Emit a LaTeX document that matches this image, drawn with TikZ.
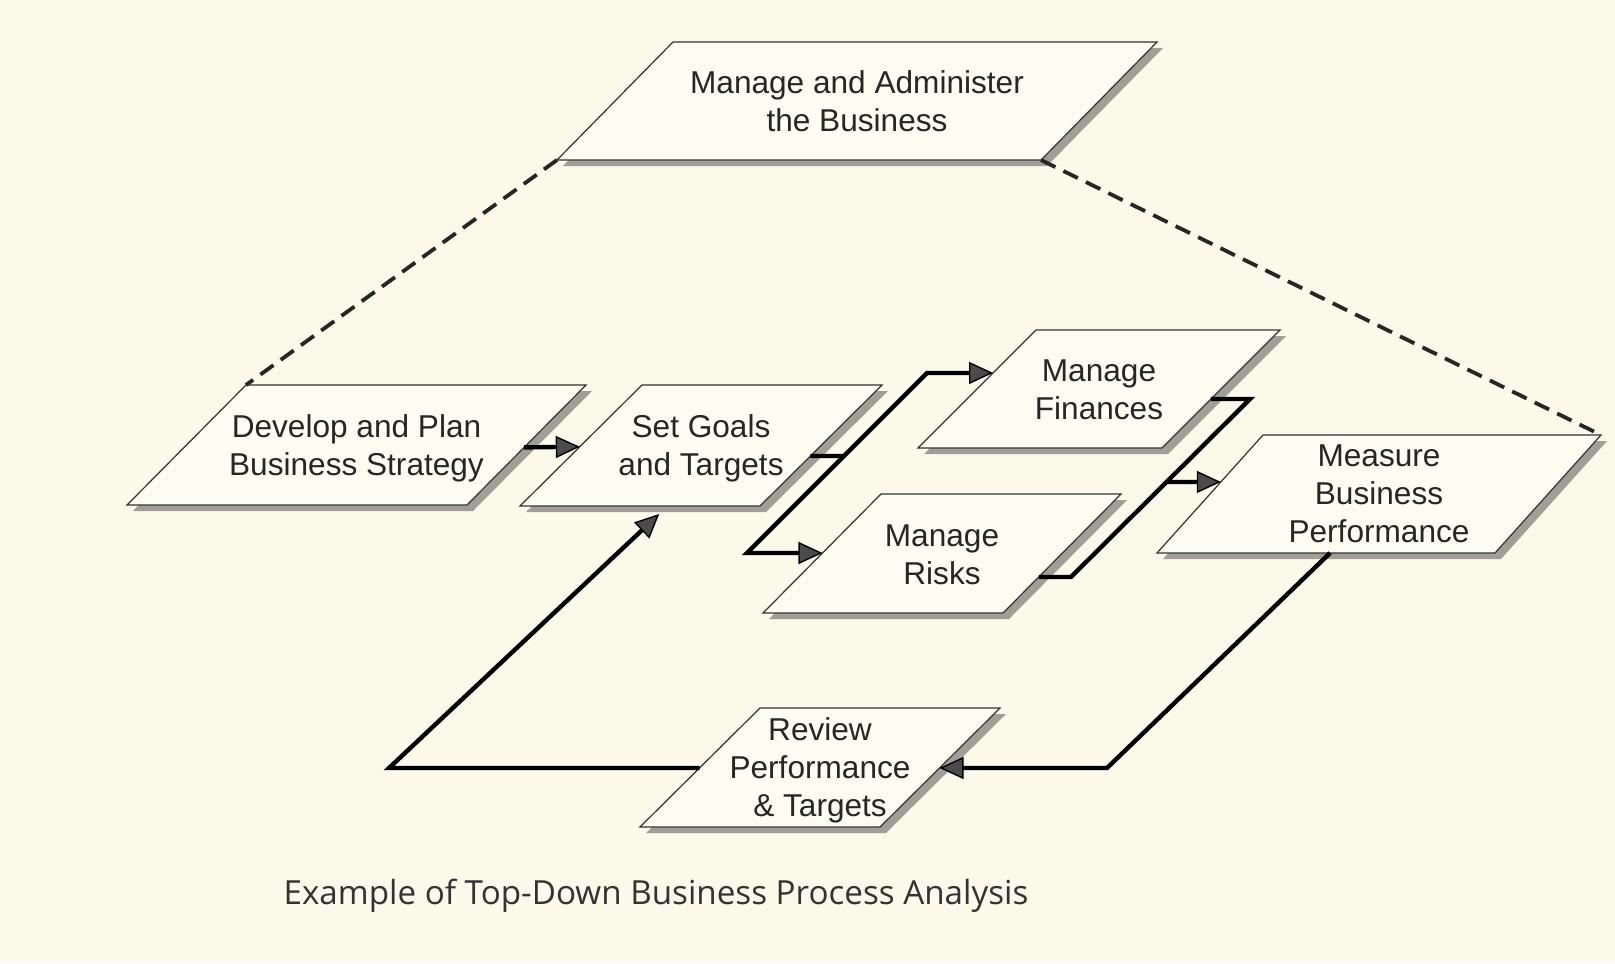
\documentclass[tikz,border=0pt]{standalone}
\usepackage{fontspec}
\setmainfont{Liberation Sans}
\newfontfamily\capfont{Open Sans}
\usetikzlibrary{calc,arrows.meta}
\definecolor{bgc}{RGB}{251,249,234}
\definecolor{boxfill}{RGB}{253,252,241}
\definecolor{shadowc}{RGB}{160,158,150}
\definecolor{tipc}{RGB}{75,75,75}
\tikzset{
  boxline/.style={draw=black!80, line width=0.6pt, fill=boxfill, line join=miter},
  shadowfill/.style={fill=shadowc},
  boxtext/.style={text=black!85, align=center, font=\fontsize{15.8}{19}\selectfont, inner sep=0pt},
  flowline/.style={draw=black, line width=2.2pt, line join=miter, line cap=butt},
  flow/.style={flowline, -{Triangle[length=12pt,width=11pt,fill=tipc,line width=0.7pt]}},
  dashline/.style={draw=black!85, line width=1.9pt, dash pattern=on 8pt off 4.5pt},
  captext/.style={text=black!80, font=\capfont\fontsize{16.6}{19}\selectfont, inner sep=0pt},
}
% name, bottom-left x, bottom-left y, width, height, slant, text offset, text
\newcommand{\procbox}[8]{%
  \fill[shadowfill] (#2+6,#3+6) -- (#2+#4+6,#3+6) -- (#2+#4+#6+6,#3-#5+6) -- (#2+#6+6,#3-#5+6) -- cycle;
  \draw[boxline] (#2,#3) coordinate (#1-bl) -- (#2+#4,#3) coordinate (#1-br)
     -- (#2+#4+#6,#3-#5) coordinate (#1-tr) -- (#2+#6,#3-#5) coordinate (#1-tl) -- cycle;
  \node[boxtext] (#1) at (#2+#4/2+#6/2,#3-#5/2+#7) {#8};
}
\begin{document}
\begin{tikzpicture}[x=0.5pt,y=-0.5pt]
\fill[bgc] (0,0) rectangle (1615,963);
\useasboundingbox (0,0) rectangle (1615,963);

% boxes
\procbox{top}{557}{160}{484}{118}{116}{0}{Manage and Administer\\the Business}
\procbox{dev}{127}{505}{340}{120}{119}{3}{Develop and Plan\\Business Strategy}
\procbox{goals}{520}{506}{240}{121}{122}{3}{Set Goals\\and Targets}
\procbox{fin}{918}{448}{244}{118}{118}{1}{Manage\\Finances}
\procbox{risks}{763}{613}{240}{119}{118}{1}{Manage\\Risks}
\procbox{meas}{1157}{553}{338}{118}{106}{0}{Measure\\Business\\Performance}
\procbox{rev}{640}{827}{240}{119}{120}{3}{Review\\Performance\\\& Targets}

% dashed decomposition lines
\draw[dashline] (top-bl) -- (dev-tl);
\draw[dashline] (top-br) -- (meas-tr);

% develop -> goals
\draw[flow] ($(dev-br)!0.48!(dev-tr)$) -- ($(goals-bl)!0.49!(goals-tl)$);

% goals -> finances / risks
\coordinate (c1) at (747,553);
\coordinate (c2) at (927,373);
\coordinate (j1) at ($(c1)!0.539!(c2)$);
\draw[flowline] ($(goals-br)!0.413!(goals-tr)$) -- (j1);
\draw[flow] (j1) -- (c1) -- ($(risks-bl)!0.504!(risks-tl)$);
\draw[flow] (j1) -- (c2) -- ($(fin-bl)!0.636!(fin-tl)$);

% finances / risks -> measure
\coordinate (c3) at (1250,399);
\coordinate (c4) at (1071,577);
\coordinate (j2) at ($(c3)!0.466!(c4)$);
\draw[flowline] ($(fin-br)!0.415!(fin-tr)$) -- (c3) -- (c4) -- ($(risks-br)!0.303!(risks-tr)$);
\draw[flow] (j2) -- ($(meas-bl)!0.602!(meas-tl)$);

% measure -> review
\coordinate (c5) at (1107,768);
\draw[flow] ($(meas-bl)!0.512!(meas-br)$) -- (c5) -- ($(rev-br)!0.496!(rev-tr)$);

% review -> goals
\coordinate (c6) at (389,768);
\draw[flow] ($(rev-bl)!0.496!(rev-tl)$) -- (c6) -- ($(goals-bl)!0.58!(goals-br)+(0,8)$);

% caption
\node[captext, anchor=base] (cap) at (656,904) {Example of Top-Down Business Process Analysis};
\end{tikzpicture}
\end{document}
